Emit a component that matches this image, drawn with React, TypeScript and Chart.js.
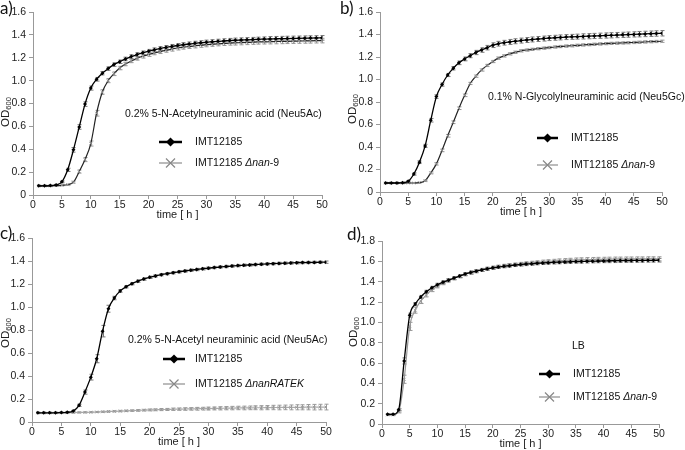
import React, { useEffect, useRef } from 'react';
import { Chart, registerables } from 'chart.js';

Chart.register(...registerables);

// ---------- data ----------
const HOURS = [1,2,3,4,5,6,7,8,9,10,11,12,13,14,15,16,17,18,19,20,21,22,23,24,25,26,27,28,29,30,31,32,33,34,35,36,37,38,39,40,41,42,43,44,45,46,47,48,49,50];
const X_TICKS = [0,5,10,15,20,25,30,35,40,45,50];

// panel a) 0.2% Neu5Ac
const A_WT = [0.080,0.080,0.082,0.088,0.115,0.220,0.395,0.595,0.795,0.935,1.012,1.065,1.105,1.140,1.165,1.190,1.210,1.228,1.243,1.257,1.269,1.280,1.290,1.299,1.307,1.314,1.320,1.326,1.331,1.336,1.340,1.344,1.347,1.350,1.353,1.355,1.357,1.359,1.361,1.363,1.365,1.366,1.367,1.368,1.369,1.370,1.371,1.372,1.373,1.374];
const A_WT_ERR = [0.004,0.004,0.004,0.005,0.008,0.014,0.02,0.02,0.02,0.018,0.016,0.015,0.015,0.015,0.015,0.015,0.016,0.016,0.016,0.016,0.017,0.017,0.017,0.017,0.017,0.018,0.018,0.018,0.018,0.018,0.018,0.018,0.019,0.019,0.019,0.019,0.019,0.019,0.019,0.019,0.02,0.02,0.02,0.02,0.02,0.02,0.02,0.02,0.02,0.02];
const A_MUT = [0.080,0.080,0.080,0.082,0.085,0.090,0.112,0.205,0.310,0.450,0.715,0.900,1.000,1.060,1.110,1.145,1.172,1.195,1.213,1.228,1.242,1.254,1.265,1.275,1.285,1.292,1.298,1.304,1.309,1.314,1.318,1.322,1.325,1.328,1.330,1.332,1.334,1.336,1.338,1.339,1.340,1.342,1.343,1.344,1.345,1.346,1.347,1.348,1.349,1.350];
const A_MUT_ERR = [0.004,0.004,0.004,0.004,0.004,0.005,0.008,0.014,0.018,0.022,0.025,0.02,0.018,0.016,0.015,0.015,0.015,0.016,0.016,0.016,0.016,0.017,0.017,0.017,0.017,0.017,0.017,0.018,0.018,0.018,0.018,0.018,0.018,0.018,0.019,0.019,0.019,0.019,0.019,0.019,0.019,0.02,0.02,0.02,0.02,0.02,0.02,0.02,0.02,0.02];

// panel b) 0.1% Neu5Gc
const B_WT = [0.080,0.080,0.080,0.083,0.095,0.160,0.265,0.410,0.638,0.848,0.955,1.040,1.100,1.148,1.183,1.212,1.240,1.262,1.283,1.305,1.318,1.327,1.334,1.340,1.346,1.351,1.356,1.360,1.364,1.368,1.371,1.374,1.377,1.379,1.381,1.383,1.385,1.387,1.389,1.391,1.393,1.395,1.397,1.399,1.401,1.403,1.405,1.407,1.409,1.411];
const B_WT_ERR = [0.004,0.004,0.004,0.004,0.006,0.01,0.012,0.014,0.016,0.016,0.014,0.014,0.015,0.016,0.017,0.018,0.019,0.02,0.02,0.021,0.021,0.021,0.022,0.022,0.022,0.022,0.022,0.022,0.022,0.022,0.022,0.022,0.022,0.022,0.022,0.023,0.023,0.023,0.023,0.023,0.023,0.023,0.023,0.023,0.023,0.024,0.024,0.024,0.024,0.024];
const B_MUT = [0.080,0.080,0.080,0.080,0.080,0.080,0.083,0.100,0.170,0.250,0.370,0.500,0.620,0.745,0.860,0.965,1.030,1.085,1.125,1.160,1.190,1.210,1.228,1.242,1.255,1.262,1.268,1.274,1.279,1.284,1.289,1.293,1.297,1.300,1.304,1.307,1.310,1.313,1.316,1.319,1.321,1.323,1.325,1.327,1.329,1.331,1.334,1.336,1.338,1.340];
const B_MUT_ERR = [0.003,0.003,0.003,0.003,0.003,0.003,0.004,0.006,0.008,0.01,0.012,0.012,0.012,0.012,0.012,0.01,0.01,0.01,0.01,0.01,0.01,0.01,0.01,0.01,0.01,0.01,0.01,0.01,0.01,0.01,0.01,0.01,0.01,0.01,0.01,0.01,0.01,0.01,0.01,0.01,0.01,0.01,0.01,0.01,0.01,0.01,0.01,0.01,0.01,0.01];

// panel c) 0.2% Neu5Ac, nanRATEK
const C_WT = [0.080,0.080,0.080,0.080,0.082,0.084,0.095,0.145,0.260,0.390,0.550,0.790,0.985,1.078,1.140,1.176,1.203,1.225,1.243,1.258,1.270,1.281,1.290,1.298,1.306,1.313,1.320,1.326,1.332,1.338,1.343,1.348,1.352,1.356,1.360,1.363,1.366,1.369,1.372,1.375,1.377,1.379,1.381,1.383,1.385,1.386,1.387,1.388,1.389,1.390];
const C_WT_ERR = [0.004,0.004,0.004,0.004,0.004,0.004,0.006,0.01,0.018,0.025,0.035,0.05,0.03,0.015,0.012,0.01,0.01,0.01,0.01,0.01,0.01,0.01,0.01,0.01,0.01,0.01,0.01,0.01,0.01,0.01,0.01,0.01,0.01,0.01,0.01,0.01,0.01,0.01,0.01,0.01,0.01,0.01,0.01,0.01,0.01,0.01,0.01,0.01,0.01,0.01];
const C_MUT = [0.080,0.080,0.080,0.080,0.081,0.081,0.082,0.083,0.084,0.085,0.087,0.089,0.091,0.093,0.095,0.097,0.099,0.101,0.103,0.105,0.106,0.108,0.109,0.111,0.112,0.113,0.114,0.115,0.116,0.117,0.118,0.119,0.120,0.121,0.122,0.122,0.123,0.124,0.124,0.125,0.126,0.126,0.127,0.127,0.128,0.128,0.129,0.129,0.130,0.130];
const C_MUT_ERR = [0.003,0.003,0.003,0.003,0.003,0.003,0.003,0.003,0.004,0.004,0.004,0.005,0.005,0.005,0.006,0.006,0.006,0.007,0.007,0.008,0.008,0.009,0.009,0.01,0.01,0.011,0.011,0.012,0.012,0.013,0.013,0.014,0.014,0.015,0.015,0.016,0.016,0.017,0.018,0.018,0.019,0.02,0.02,0.021,0.022,0.022,0.023,0.024,0.024,0.025];

// panel d) LB
const D_WT = [0.095,0.095,0.140,0.620,1.070,1.180,1.250,1.300,1.340,1.370,1.395,1.415,1.435,1.455,1.475,1.490,1.503,1.515,1.526,1.536,1.544,1.551,1.557,1.563,1.568,1.573,1.577,1.581,1.584,1.587,1.590,1.592,1.594,1.596,1.598,1.599,1.601,1.602,1.603,1.604,1.605,1.606,1.607,1.608,1.608,1.609,1.609,1.610,1.610,1.611];
const D_WT_ERR = [0.005,0.005,0.01,0.03,0.02,0.015,0.015,0.015,0.014,0.014,0.014,0.014,0.014,0.014,0.014,0.014,0.014,0.014,0.014,0.014,0.014,0.014,0.014,0.014,0.014,0.015,0.015,0.015,0.015,0.015,0.016,0.016,0.016,0.016,0.016,0.017,0.017,0.017,0.017,0.017,0.018,0.018,0.018,0.018,0.018,0.018,0.018,0.018,0.018,0.018];
const D_MUT = [0.090,0.090,0.120,0.440,0.960,1.120,1.210,1.270,1.320,1.355,1.385,1.410,1.432,1.452,1.472,1.489,1.503,1.516,1.528,1.538,1.547,1.555,1.562,1.568,1.574,1.579,1.584,1.589,1.594,1.598,1.602,1.605,1.608,1.611,1.613,1.615,1.617,1.618,1.619,1.620,1.621,1.622,1.622,1.623,1.623,1.624,1.624,1.625,1.625,1.625];
const D_MUT_ERR = [0.005,0.005,0.01,0.04,0.04,0.03,0.025,0.02,0.018,0.016,0.015,0.015,0.015,0.015,0.015,0.015,0.015,0.015,0.015,0.015,0.016,0.016,0.016,0.016,0.016,0.017,0.017,0.017,0.018,0.018,0.018,0.019,0.019,0.019,0.02,0.02,0.02,0.02,0.02,0.02,0.02,0.02,0.02,0.02,0.02,0.02,0.02,0.02,0.02,0.02];

const WT_LABEL = 'IMT12185';
const MUT_PREFIX = 'IMT12185 ';

// ---------- layout ----------
type PanelCfg = {
  letter: string; left: number; top: number; width: number; height: number;
  yW: number; xH: number; padTop: number; padRight: number; yMax: number;
  wt: number[]; wtErr: number[]; mut: number[]; mutErr: number[];
  mutLine: string; mutItalic: string; mutSuffix: string; note: string;
  noteX: number; noteY: number; legX1: number; legX2: number; legText: number; legY1: number; legY2: number;
  odX: number; odY: number; letterX: number; letterY: number;
};

const PANELS: PanelCfg[] = [
  { letter: 'a)', left: 0, top: 0, width: 342, height: 225, yW: 33, xH: 30, padTop: 12, padRight: 20, yMax: 1.6,
    wt: A_WT, wtErr: A_WT_ERR, mut: A_MUT, mutErr: A_MUT_ERR, mutLine: '#222', mutItalic: '\u0394nan', mutSuffix: '-9',
    note: '0.2% 5-N-Acetylneuraminic acid (Neu5Ac)', noteX: 125, noteY: 114, legX1: 159, legX2: 182, legText: 195, legY1: 142, legY2: 163,
    odX: 6, odY: 112, letterX: 0, letterY: 9 },
  { letter: 'b)', left: 340, top: 0, width: 345, height: 225, yW: 40, xH: 33, padTop: 12, padRight: 23, yMax: 1.6,
    wt: B_WT, wtErr: B_WT_ERR, mut: B_MUT, mutErr: B_MUT_ERR, mutLine: '#222', mutItalic: '\u0394nan', mutSuffix: '-9',
    note: '0.1% N-Glycolylneuraminic acid (Neu5Gc)', noteX: 148, noteY: 97, legX1: 197, legX2: 218, legText: 231, legY1: 138, legY2: 165,
    odX: 13, odY: 109, letterX: 0, letterY: 9 },
  { letter: 'c)', left: 0, top: 225, width: 342, height: 225, yW: 32, xH: 28, padTop: 13, padRight: 16, yMax: 1.6,
    wt: C_WT, wtErr: C_WT_ERR, mut: C_MUT, mutErr: C_MUT_ERR, mutLine: '#aaa', mutItalic: '\u0394nanRATEK', mutSuffix: '',
    note: '0.2% 5-N-Acetyl neuraminic acid (Neu5Ac)', noteX: 128, noteY: 115, legX1: 163, legX2: 185, legText: 195, legY1: 134, legY2: 159,
    odX: 6, odY: 108, letterX: 0, letterY: 9 },
  { letter: 'd)', left: 340, top: 225, width: 345, height: 225, yW: 42, xH: 26, padTop: 16, padRight: 26, yMax: 1.8,
    wt: D_WT, wtErr: D_WT_ERR, mut: D_MUT, mutErr: D_MUT_ERR, mutLine: '#999', mutItalic: '\u0394nan', mutSuffix: '-9',
    note: 'LB', noteX: 232, noteY: 121, legX1: 199, legX2: 220, legText: 233, legY1: 149, legY2: 172,
    odX: 14, odY: 107, letterX: 7, letterY: 10 },
];

const FONT = '"Liberation Sans", Arial, sans-serif';

function Panel({ cfg }: { cfg: PanelCfg }) {
  const ref = useRef<HTMLCanvasElement | null>(null);
  useEffect(() => {
    if (!ref.current) return;
    const deco = {
      id: 'deco',
      beforeDatasetsDraw(chart: any) {
        const ctx = chart.ctx;
        const ys = chart.scales.y;
        const errs = [cfg.wtErr, cfg.mutErr];
        const vals = [cfg.wt, cfg.mut];
        ctx.save();
        ctx.lineWidth = 1;
        [1, 0].forEach((di) => {
          const meta = chart.getDatasetMeta(di);
          ctx.strokeStyle = di === 0 ? '#777' : '#999';
          meta.data.forEach((el: any, j: number) => {
            const v = vals[di][j];
            const e = errs[di][j];
            const x = Math.round(el.x) + 0.5;
            const y1 = ys.getPixelForValue(v + e);
            const y2 = ys.getPixelForValue(v - e);
            ctx.beginPath();
            ctx.moveTo(x, y1); ctx.lineTo(x, y2);
            ctx.moveTo(x - 2, y1); ctx.lineTo(x + 2, y1);
            ctx.moveTo(x - 2, y2); ctx.lineTo(x + 2, y2);
            ctx.stroke();
          });
        });
        ctx.restore();
      },
      afterDraw(chart: any) {
        const ctx = chart.ctx;
        ctx.save();
        // panel letter
        ctx.fillStyle = '#111';
        ctx.font = '17px Lato, "Open Sans", sans-serif';
        ctx.textBaseline = 'middle';
        ctx.textAlign = 'left';
        ctx.fillText(cfg.letter, cfg.letterX, cfg.letterY);
        // x title
        const ca = chart.chartArea;
        ctx.font = `11px ${FONT}`;
        ctx.fillStyle = '#222';
        ctx.textAlign = 'center';
        ctx.fillText('time [ h ]', (ca.left + ca.right) / 2, ca.bottom + 20);
        // y title OD600
        ctx.save();
        ctx.translate(cfg.odX, cfg.odY);
        ctx.rotate(-Math.PI / 2);
        ctx.textAlign = 'left';
        ctx.font = `11.5px ${FONT}`;
        const odW = ctx.measureText('OD').width;
        ctx.font = `7.5px ${FONT}`;
        const subW = ctx.measureText('600').width;
        const start = -(odW + subW) / 2;
        ctx.font = `11.5px ${FONT}`;
        ctx.fillText('OD', start, 0);
        ctx.font = `7.5px ${FONT}`;
        ctx.fillText('600', start + odW, 3);
        ctx.restore();
        // note
        ctx.textAlign = 'left';
        ctx.font = `10.5px ${FONT}`;
        ctx.fillStyle = '#111';
        ctx.fillText(cfg.note, cfg.noteX, cfg.noteY);
        // legend WT
        ctx.font = `10.5px ${FONT}`;
        const mid = (cfg.legX1 + cfg.legX2) / 2;
        ctx.strokeStyle = '#000';
        ctx.lineWidth = 2.5;
        ctx.beginPath();
        ctx.moveTo(cfg.legX1, cfg.legY1); ctx.lineTo(cfg.legX2, cfg.legY1);
        ctx.stroke();
        ctx.fillStyle = '#000';
        ctx.beginPath();
        ctx.moveTo(mid, cfg.legY1 - 4.5); ctx.lineTo(mid + 4.5, cfg.legY1);
        ctx.lineTo(mid, cfg.legY1 + 4.5); ctx.lineTo(mid - 4.5, cfg.legY1);
        ctx.closePath(); ctx.fill();
        ctx.fillStyle = '#111';
        ctx.fillText(WT_LABEL, cfg.legText, cfg.legY1);
        // legend mutant
        ctx.strokeStyle = '#bbb';
        ctx.lineWidth = 2;
        ctx.beginPath();
        ctx.moveTo(cfg.legX1, cfg.legY2); ctx.lineTo(cfg.legX2, cfg.legY2);
        ctx.stroke();
        ctx.strokeStyle = '#888';
        ctx.lineWidth = 1.2;
        ctx.beginPath();
        ctx.moveTo(mid - 4.5, cfg.legY2 - 4.5); ctx.lineTo(mid + 4.5, cfg.legY2 + 4.5);
        ctx.moveTo(mid + 4.5, cfg.legY2 - 4.5); ctx.lineTo(mid - 4.5, cfg.legY2 + 4.5);
        ctx.stroke();
        let tx = cfg.legText;
        ctx.fillText(MUT_PREFIX, tx, cfg.legY2);
        tx += ctx.measureText(MUT_PREFIX).width;
        ctx.font = `italic 10.5px ${FONT}`;
        ctx.fillText(cfg.mutItalic, tx, cfg.legY2);
        tx += ctx.measureText(cfg.mutItalic).width;
        ctx.font = `10.5px ${FONT}`;
        ctx.fillText(cfg.mutSuffix, tx, cfg.legY2);
        ctx.restore();
      },
    };

    const chart = new Chart(ref.current, {
      type: 'line',
      data: {
        datasets: [
          {
            label: WT_LABEL,
            data: HOURS.map((h, i) => ({ x: h, y: cfg.wt[i] })),
            borderColor: '#000',
            borderWidth: 1.3,
            pointStyle: 'rectRot',
            pointRadius: 2,
            pointBackgroundColor: '#000',
            pointBorderColor: '#000',
            pointBorderWidth: 0,
            cubicInterpolationMode: 'monotone',
            order: 1,
          },
          {
            label: MUT_PREFIX + cfg.mutItalic + cfg.mutSuffix,
            data: HOURS.map((h, i) => ({ x: h, y: cfg.mut[i] })),
            borderColor: cfg.mutLine,
            borderWidth: 1.2,
            pointStyle: 'crossRot',
            pointRadius: 2,
            pointBorderColor: '#999',
            pointBorderWidth: 1,
            cubicInterpolationMode: 'monotone',
            order: 2,
          },
        ],
      },
      options: {
        responsive: false,
        animation: false,
        devicePixelRatio: 1,
        layout: { padding: { top: cfg.padTop, right: cfg.padRight, left: 0, bottom: 0 } },
        plugins: { legend: { display: false }, tooltip: { enabled: false } },
        scales: {
          x: {
            type: 'linear',
            min: 0,
            max: 50,
            afterFit: (s: any) => { s.height = cfg.xH; },
            afterBuildTicks: (s: any) => { s.ticks = X_TICKS.map((v) => ({ value: v })); },
            grid: { drawOnChartArea: false, drawTicks: true, tickLength: 4, color: '#999' },
            border: { color: '#999' },
            ticks: { padding: 0, maxRotation: 0, autoSkip: false, color: '#222', font: { family: FONT, size: 10.5 } },
          },
          y: {
            min: 0,
            max: cfg.yMax,
            afterFit: (s: any) => { s.width = cfg.yW; },
            grid: { drawOnChartArea: false, drawTicks: true, tickLength: 4, color: '#999' },
            border: { color: '#999' },
            ticks: { stepSize: 0.2, padding: 3, color: '#222', font: { family: FONT, size: 10.5 } },
          },
        },
      },
      plugins: [deco],
    } as any);
    return () => chart.destroy();
  }, [cfg]);
  return (
    <div style={{ position: 'absolute', left: cfg.left, top: cfg.top, width: cfg.width, height: cfg.height }}>
      <canvas ref={ref} width={cfg.width} height={cfg.height} style={{ display: 'block' }} />
    </div>
  );
}

export default function App() {
  return (
    <div style={{ position: 'absolute', left: 0, top: 0, width: 685, height: 450, background: '#fff', overflow: 'hidden' }}>
      {PANELS.map((p) => <Panel key={p.letter} cfg={p} />)}
    </div>
  );
}
